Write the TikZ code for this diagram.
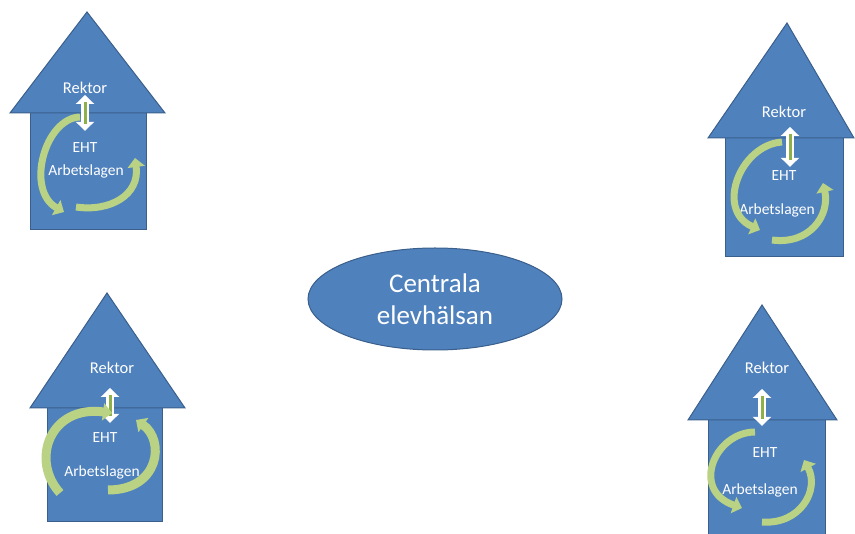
\documentclass[tikz,border=0pt]{standalone}
\usepackage{fontspec}
\setmainfont{Carlito}
\usetikzlibrary{arrows.meta,shapes.geometric}
\definecolor{hblue}{HTML}{4F81BD}
\definecolor{hedge}{HTML}{3A5F8C}
\definecolor{cgreen}{HTML}{B9D283}
\definecolor{dgreen}{HTML}{8DB04A}
\tikzset{
  housepart/.style={fill=hblue,draw=hedge,line width=1pt,line join=miter},
  lbl/.style={text=white,font=\fontsize{15.5}{17}\selectfont,inner sep=1pt},
  rlbl/.style={text=white,font=\fontsize{16.5}{18}\selectfont,inner sep=1pt},
  curv/.style={draw=cgreen,line width=7pt,-{Triangle[length=9pt,width=17pt]}},
  dblw/.style={draw=white,line width=8pt,{Triangle[length=9pt,width=18pt]}-{Triangle[length=9pt,width=18pt]}},
  dblg/.style={draw=dgreen,line width=3pt},
}
\begin{document}
\begin{tikzpicture}[x=1pt,y=-1pt]
\useasboundingbox (0,0) rectangle (855,534);
% ---------- house 1 (top left)
\draw[housepart] (30,113) rectangle (146,230);
\draw[housepart] (10,113) -- (87,12) -- (165,113) -- cycle;
\node[rlbl] (r1) at (85,88) {Rektor};
\node[lbl] (e1) at (85,148) {EHT};
\node[lbl] (a1) at (86,171) {Arbetslagen};
\draw[curv] (80,117) .. controls (45,118) and (25,190) .. (64,212);
\draw[curv] (76,207) .. controls (110,212) and (140,195) .. (135,158);
\draw[dblw,shorten <=0pt,shorten >=11pt] (r1.south) -- (e1.north);
\draw[dblg,shorten <=7pt,shorten >=18pt] (r1.south) -- (e1.north);
% ---------- house 2 (top right)
\draw[housepart] (725,138) rectangle (843,257);
\draw[housepart] (708,138) -- (787,23) -- (854,138) -- cycle;
\node[rlbl] (r2) at (784,112) {Rektor};
\node[lbl] (e2) at (784,176) {EHT};
\node[lbl] (a2) at (777,210) {Arbetslagen};
\draw[curv] (782,142) .. controls (740,145) and (715,210) .. (760,230);
\draw[curv] (772,240) .. controls (810,245) and (830,215) .. (823,183);
\draw[dblw,shorten <=8pt,shorten >=3pt] ([xshift=6pt]r2.south) -- ([xshift=6pt]r2.south |- e2.north);
\draw[dblg,shorten <=15pt,shorten >=10pt] ([xshift=6pt]r2.south) -- ([xshift=6pt]r2.south |- e2.north);
% ---------- house 3 (bottom left)
\draw[housepart] (47,408) rectangle (162,522);
\draw[housepart] (30,408) -- (107,293) -- (185,408) -- cycle;
\node[rlbl] (r3) at (112,368) {Rektor};
\node[lbl] (e3) at (105,438) {EHT};
\node[lbl] (a3) at (102,472) {Arbetslagen};
\draw[dblw,shorten <=13pt,shorten >=9pt] ([xshift=-2pt]r3.south) -- ([xshift=-2pt]r3.south |- e3.north);
\draw[dblg,shorten <=20pt,shorten >=16pt] ([xshift=-2pt]r3.south) -- ([xshift=-2pt]r3.south |- e3.north);
\draw[curv,line width=9pt] (60,493) .. controls (30,460) and (50,405) .. (112,413);
\draw[curv,line width=9pt] (108,490) .. controls (160,490) and (165,440) .. (136,420);
% ---------- house 4 (bottom right)
\draw[housepart] (708,420) rectangle (825,545);
\draw[housepart] (688,420) -- (762,305) -- (837,420) -- cycle;
\node[rlbl] (r4) at (767,368) {Rektor};
\node[lbl] (e4) at (765,453) {EHT};
\node[lbl] (a4) at (760,490) {Arbetslagen};
\draw[dblw,shorten <=14pt,shorten >=21pt] ([xshift=-5pt]r4.south) -- ([xshift=-5pt]r4.south |- e4.north);
\draw[dblg,shorten <=21pt,shorten >=28pt] ([xshift=-5pt]r4.south) -- ([xshift=-5pt]r4.south |- e4.north);
\draw[curv] (755,432) .. controls (715,432) and (690,490) .. (742,508);
\draw[curv] (762,522) .. controls (800,525) and (820,490) .. (804,460);
% ---------- centre
\node[ellipse,fill=hblue,draw=hedge,line width=1pt,minimum width=254pt,minimum height=102pt,
      text=white,align=center,font=\fontsize{27}{32}\selectfont] (c) at (435,299) {Centrala\\elevhälsan};
\end{tikzpicture}
\end{document}
